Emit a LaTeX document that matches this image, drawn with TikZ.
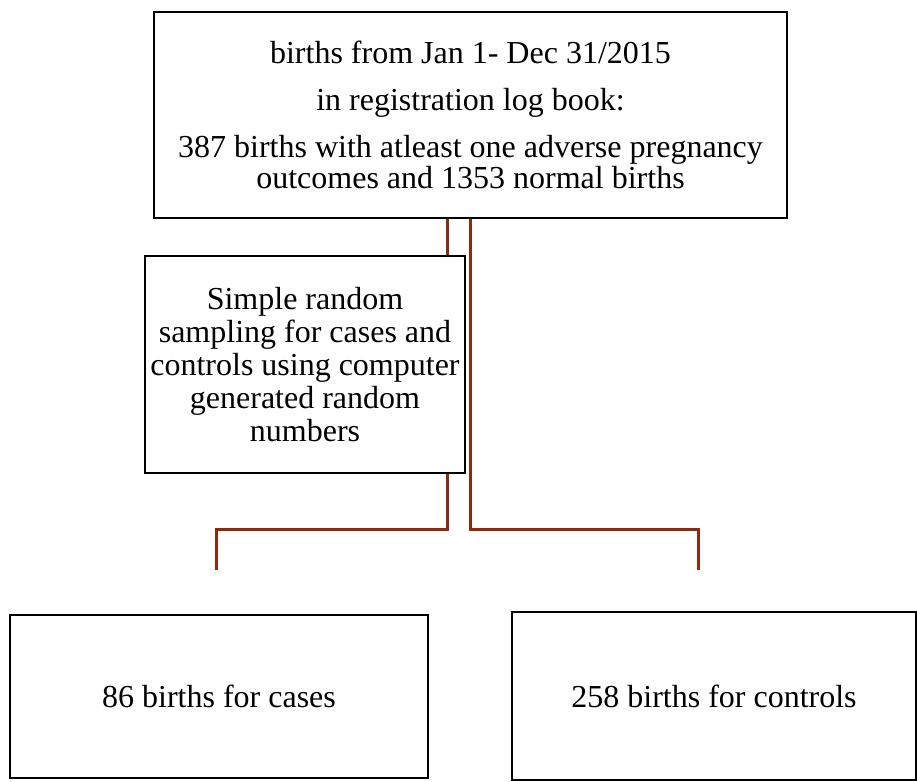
\documentclass[tikz,border=0pt]{standalone}
\usepackage{fontspec}
\setmainfont{Liberation Serif}
\usepackage{tikz}
\usetikzlibrary{positioning}
\definecolor{linkdraw}{HTML}{8E2A0E}
\tikzset{
  blk/.style={rectangle, draw=black, line width=2.6pt, align=center, font=\fontsize{32}{33}\selectfont, inner sep=0pt},
  lnk/.style={line width=3pt, draw=linkdraw},
}

\begin{document}
\begin{tikzpicture}[x=1pt, y=-1pt]
  \useasboundingbox (0,0) rectangle (917,781);
  \node[blk, minimum width=633pt, minimum height=206pt, font=\fontsize{32}{31}\selectfont] (log) at (470.5,115) {births from Jan 1- Dec 31/2015\\[16pt]in registration log book:\\[16pt]387 births with atleast one adverse pregnancy\\outcomes and 1353 normal births};
  \node[blk, minimum width=320pt, minimum height=217pt] (srs) at (305,364.5) {Simple random\\sampling for cases and\\controls using computer\\generated random\\numbers};
  \node[blk, minimum width=418pt, minimum height=163pt] (cases) at (219,696.5) {86 births for cases};
  \node[blk, minimum width=404pt, minimum height=168pt] (ctrls) at (714,696) {258 births for controls};
  \coordinate (lsplit) at (447,529);
  \coordinate (rsplit) at (470,529);
  \coordinate (casesin) at (216,570);
  \coordinate (ctrlsin) at (698,570);
  \draw[lnk] (log.south -| lsplit) -- (srs.north -| lsplit);
  \draw[lnk] (srs.south -| lsplit) -- (lsplit) -| (casesin);
  \draw[lnk] (log.south -| rsplit) -- (rsplit) -| (ctrlsin);
\end{tikzpicture}
\end{document}
